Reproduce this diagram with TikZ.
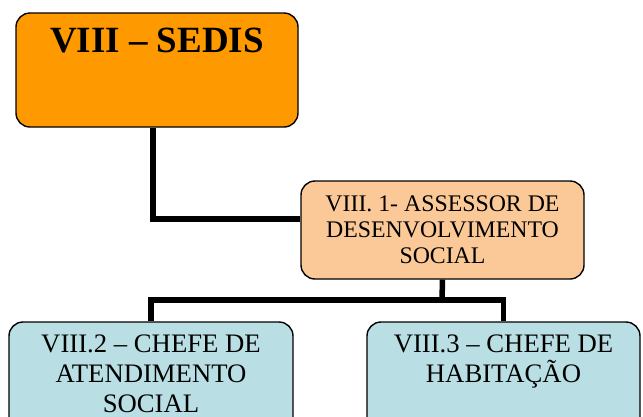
\documentclass[tikz,border=0pt]{standalone}
\usepackage{fontspec}
\setmainfont{Liberation Serif}
\definecolor{sedisorange}{HTML}{FF9900}
\definecolor{assessorpeach}{HTML}{FBC997}
\definecolor{chefeblue}{HTML}{B9DFE4}

\begin{document}
\begin{tikzpicture}[x=1pt,y=-1pt,
  box/.style={draw, line width=1.4pt, rounded corners=14pt, inner sep=0pt},
  conn/.style={line width=5.5pt}]
 \path[use as bounding box, clip] (0,0) rectangle (643,416);

 \node[box, fill=sedisorange, minimum width=282pt, minimum height=114pt,
   label={[anchor=north, yshift=-12pt, font=\bfseries\fontsize{37}{40}\selectfont]north:VIII -- SEDIS}] (sedis) at (157,70) {};

 \node[box, fill=assessorpeach, minimum width=283pt, minimum height=98pt, align=center,
   font=\fontsize{23.8}{26}\selectfont] (assessor) at (442.5,230) {VIII. 1- ASSESSOR DE\\ DESENVOLVIMENTO\\ SOCIAL};

 \node[box, fill=chefeblue, minimum width=284pt, minimum height=130pt,
   label={[anchor=north, yshift=-10pt, align=center, font=\fontsize{26.7}{30}\selectfont]north:VIII.2 -- CHEFE DE\\ ATENDIMENTO\\ SOCIAL}] (chefe2) at (151,387) {};
 \node[box, fill=chefeblue, minimum width=273pt, minimum height=130pt,
   label={[anchor=north, yshift=-10pt, align=center, font=\fontsize{26.7}{30}\selectfont]north:VIII.3 -- CHEFE DE\\ HABITAÇÃO}] (chefe3) at (503.5,387) {};

 \coordinate (bus) at (442,300);

 \draw[conn] ([xshift=-4pt]sedis.south) |- ([yshift=11pt]assessor.west);
 \draw[conn] (assessor.south) -- (bus);
 \draw[conn] (chefe2.north) |- (bus) -| (chefe3.north);

\end{tikzpicture}
\end{document}
